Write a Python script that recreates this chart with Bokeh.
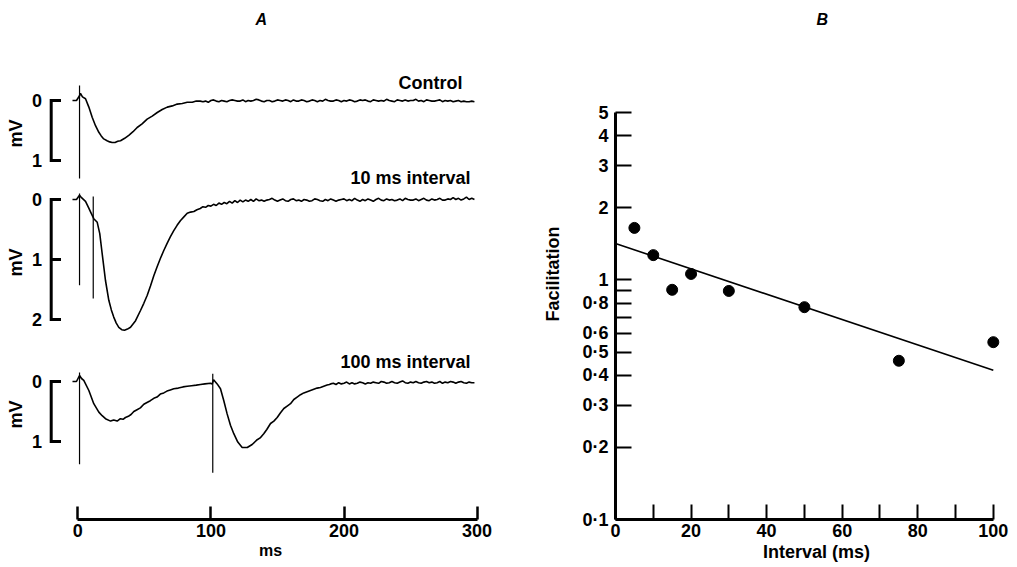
import numpy as np
from bokeh.plotting import figure
from bokeh.layouts import row
from bokeh.models import FixedTicker
from bokeh.core.properties import value
from bokeh.embed import file_html
from bokeh.resources import INLINE

# ---------------- DATA ----------------
# Panel A: membrane potential traces (time in ms, deflection in mV, positive = downward)
ctrl_t = [-4.0, -1.0, 1.3, 2.0, 3.5, 5.8, 8.3, 10.8, 13.3, 15.8, 17.6, 19.5, 22.0, 24.0, 25.8,
          28.0, 30.0, 32.1, 35.2, 38.3, 41.5, 44.6, 48.3, 52.1, 55.9, 59.7, 63.4, 67.2, 71.0,
          74.7, 78.5, 82.2, 86.0, 89.0] + list(range(92, 300, 2))
ctrl_mv = [0.0, 0.0, -0.08, -0.12, -0.06, -0.03, 0.11, 0.28, 0.42, 0.53, 0.59, 0.64, 0.67, 0.69,
           0.70, 0.70, 0.68, 0.67, 0.63, 0.58, 0.52, 0.45, 0.39, 0.31, 0.26, 0.20, 0.15, 0.11,
           0.09, 0.06, 0.05, 0.03, 0.03, 0.01,
           0.01, 0.02, 0.01, 0.03, 0.00, -0.01, 0.01, 0.02,
           0.00, 0.01, 0.02, 0.00, -0.01, 0.00, 0.01, 0.01,
           -0.01, 0.02, 0.00, 0.01, 0.00, -0.02, -0.01, 0.01,
           0.02, 0.00, 0.00, 0.02, 0.01, -0.01, 0.00, 0.01,
           -0.01, 0.00, 0.02, -0.01, 0.01, 0.01, -0.01, 0.00,
           0.02, 0.01, -0.01, 0.00, 0.02, 0.00, 0.01, -0.02,
           0.00, 0.01, 0.01, -0.01, 0.00, 0.02, 0.00, 0.01,
           -0.01, 0.00, 0.02, 0.01, -0.01, 0.00, -0.01, 0.01,
           0.02, -0.01, 0.00, 0.01, 0.00, 0.01, -0.02, 0.00,
           0.01, 0.02, -0.01, 0.00, 0.01, -0.01, 0.01, 0.00,
           0.00, -0.02, 0.01, 0.00, 0.02, -0.01, 0.00, 0.01,
           0.01, 0.00, -0.01, 0.02, 0.00, 0.01, 0.00, 0.02,
           0.01, 0.00, 0.02, 0.01, 0.02, 0.02, 0.01, 0.02]

i10_t = [-4.0, -1.0, 1.3, 2.8, 5.8, 8.0, 10.1, 12.0, 14.6, 16.5, 18.3, 20.8, 23.3, 25.2, 27.0,
         28.9, 30.8, 33.0, 35.1, 37.3, 39.6, 43.4, 47.1, 49.6, 52.1, 54.6, 57.1, 59.6, 62.1,
         64.6, 67.1, 69.6, 72.1, 74.6, 77.2, 79.7, 82.2, 84.7, 87.2, 89.5] + list(range(92, 300, 2))
i10_mv = [0.0, 0.0, -0.07, -0.03, 0.03, 0.13, 0.23, 0.32, 0.38, 0.57, 0.90, 1.35, 1.68, 1.84,
          1.96, 2.06, 2.13, 2.17, 2.18, 2.16, 2.13, 2.02, 1.85, 1.73, 1.60, 1.44, 1.27, 1.12,
          0.98, 0.85, 0.73, 0.62, 0.52, 0.43, 0.35, 0.29, 0.23, 0.21, 0.20, 0.17,
          0.15, 0.12, 0.13, 0.10, 0.11, 0.08, 0.10, 0.06,
          0.08, 0.05, 0.07, 0.03, 0.06, 0.02, 0.05, 0.01,
          0.04, 0.01, 0.03, 0.00, 0.03, -0.01, 0.02, 0.01,
          0.03, 0.01, 0.00, -0.02, 0.01, 0.03, 0.01, -0.01,
          0.02, 0.03, 0.00, -0.01, 0.02, 0.01, 0.03, 0.00,
          0.01, 0.03, 0.02, -0.01, 0.00, 0.02, 0.03, 0.00,
          0.02, -0.01, 0.01, 0.03, 0.01, 0.00, -0.01, 0.02,
          0.00, 0.02, -0.02, 0.01, 0.03, 0.00, 0.02, -0.01,
          0.01, 0.03, 0.00, -0.02, 0.01, 0.02, -0.01, 0.01,
          0.00, 0.02, 0.01, -0.01, 0.02, -0.02, 0.00, 0.01,
          0.01, -0.01, 0.02, 0.00, -0.02, 0.01, 0.02, -0.01,
          0.01, 0.00, -0.02, 0.01, 0.01, -0.01, 0.00, -0.03,
          0.00, -0.02, 0.01, -0.01, -0.04, 0.00, -0.02, 0.00]

i100_t = [-4.0, -1.0, 1.3, 2.8, 4.5, 8.3, 12.0, 15.8, 18.3, 20.8, 24.6, 27.0, 29.6, 32.0, 34.0,
          35.8, 38.0, 40.0, 42.1, 44.5, 47.0, 49.6, 52.0, 54.5, 57.1, 59.5, 62.0, 64.6, 67.0,
          69.5, 72.1, 75.5, 79.0, 82.2, 85.5, 89.0, 92.2, 95.5, 99.7, 101.0, 102.0, 104.7,
          107.2, 109.7, 112.2, 114.7, 117.2, 120.2, 123.5, 127.3, 131.0, 134.8, 137.0, 139.7,
          142.0, 144.8, 147.3, 149.8, 152.3, 154.8, 157.3, 159.8, 162.3, 164.8, 167.3, 169.8,
          172.3, 174.8, 177.3, 179.8, 182.3, 184.8, 187.3, 189.0] + list(range(190, 300, 2))
i100_mv = [0.0, 0.0, -0.10, -0.05, -0.02, 0.15, 0.37, 0.51, 0.57, 0.62, 0.66, 0.64, 0.66, 0.62,
           0.63, 0.60, 0.58, 0.55, 0.50, 0.47, 0.44, 0.38, 0.35, 0.32, 0.28, 0.26, 0.21, 0.19,
           0.16, 0.14, 0.12, 0.11, 0.09, 0.08, 0.07, 0.06, 0.05, 0.04, 0.03, 0.04, -0.03, 0.04,
           0.12, 0.32, 0.54, 0.73, 0.87, 1.01, 1.10, 1.10, 1.05, 0.97, 0.94, 0.87, 0.80, 0.70,
           0.66, 0.60, 0.52, 0.45, 0.41, 0.37, 0.30, 0.26, 0.22, 0.19, 0.17, 0.15, 0.13, 0.11,
           0.10, 0.08, 0.06, 0.05,
           0.04, 0.03, 0.05, 0.02, 0.04, 0.03, 0.01, 0.04,
           0.02, 0.04, 0.03, 0.01, 0.02, 0.04, 0.02, 0.03,
           0.01, 0.02, 0.03, 0.00, 0.01, 0.03, 0.02, 0.00,
           0.02, 0.03, 0.01, -0.01, 0.02, 0.03, 0.01, 0.02,
           0.00, 0.02, 0.03, 0.01, 0.00, 0.02, 0.01, 0.03,
           0.02, 0.00, 0.03, 0.01, 0.02, 0.00, 0.01, 0.03,
           0.01, 0.00, 0.02, 0.03, 0.01, 0.02, 0.02]

trace_labels = ["Control", "10 ms interval", "100 ms interval"]
scale_bar_mv = [1, 2, 1]                      # height of each mV scale bar
# stimulus artefacts: trace index, time (ms), top and bottom (mV)
artefact_trace = [0, 1, 1, 2, 2]
artefact_t = [1.3, 1.3, 11.6, 1.3, 101.4]
artefact_top = [-0.25, -0.10, -0.05, -0.15, -0.13]
artefact_bot = [1.30, 1.43, 1.65, 1.38, 1.52]
a_xticks = [0, 100, 200, 300]

# Panel B: facilitation vs interval
intervals = [5, 10, 15, 20, 30, 50, 75, 100]
facilitation = [1.65, 1.27, 0.91, 1.06, 0.90, 0.77, 0.46, 0.55]
fit_x = [0, 100]
fit_y = [1.42, 0.42]
b_xticks = [0, 20, 40, 60, 80, 100]
b_xminor = [10, 30, 50, 70, 90]
b_yticks = [0.1, 0.2, 0.3, 0.4, 0.5, 0.6, 0.8, 1, 2, 3, 4, 5]
b_yminor = [0.7, 0.9]
b_ylabels = ["0·1", "0·2", "0·3", "0·4", "0·5", "0·6", "0·8", "1", "2", "3", "4", "5"]

# ---------------- LAYOUT ----------------
FONT = "Liberation Sans"
FS = "18px"
W_A, W_B, H = 540, 477, 567
TOP = 28
PX_PER_MS = 1.331
X0_PX = 77.3
PX_PER_MV = 60.0
baseline_px = [100, 199, 381]          # vertical position of each trace's 0 mV


def tx(px):
    return (px - X0_PX) / PX_PER_MS


def ty(py):
    return -py / PX_PER_MV


offs = [b / PX_PER_MV for b in baseline_px]


def style_title(p, offset):
    p.title.text_font = FONT
    p.title.text_font_style = "bold italic"
    p.title.text_font_size = "16px"
    p.title.text_color = "black"
    p.title.align = "left"
    p.title.offset = offset
    p.title.standoff = 2


def style_axis(a, label, label_size, label_standoff, tick_standoff):
    a.axis_line_width = 3
    a.axis_line_color = "black"
    a.major_tick_line_color = "black"
    a.minor_tick_line_color = "black"
    a.major_tick_out = 0
    a.minor_tick_out = 0
    a.major_label_text_font = FONT
    a.major_label_text_font_size = FS
    a.major_label_text_font_style = "bold"
    a.major_label_text_color = "black"
    a.major_label_standoff = tick_standoff
    a.axis_label = label
    a.axis_label_text_font = FONT
    a.axis_label_text_font_size = label_size
    a.axis_label_text_font_style = "bold"
    a.axis_label_text_color = "black"
    a.axis_label_standoff = label_standoff


pa = figure(width=W_A, height=H, x_range=(tx(0), tx(W_A)), y_range=(ty(H - 48), ty(TOP)),
            y_axis_location=None, toolbar_location=None, output_backend="svg",
            min_border_left=0, min_border_right=0, min_border_top=TOP, min_border_bottom=48,
            title="A")
pa.grid.visible = False
pa.outline_line_color = None
style_title(pa, 255)

ax = pa.xaxis[0]
style_axis(ax, "ms", "16px", 2, 4)
ax.bounds = (0, 300)
ax.ticker = FixedTicker(ticks=a_xticks)
ax.major_tick_in = 13
ax.minor_tick_in = 0
ax.major_tick_line_width = 2.5

traces = [(ctrl_t, ctrl_mv), (i10_t, i10_mv), (i100_t, i100_mv)]
for (t, mv), off in zip(traces, offs):
    pa.line(t, [-(off + v) for v in mv], line_color="black", line_width=1.6)

pa.segment(x0=artefact_t, x1=artefact_t,
           y0=[-(offs[i] + v) for i, v in zip(artefact_trace, artefact_top)],
           y1=[-(offs[i] + v) for i, v in zip(artefact_trace, artefact_bot)],
           line_color="black", line_width=1.2)

bar_x = tx(50.7)
bar_x2 = tx(60.5)
lab_x = tx(41.5)
for off, h in zip(offs, scale_bar_mv):
    pa.segment(x0=[bar_x], x1=[bar_x], y0=[-off + 0.025], y1=[-(off + h) - 0.025],
               line_color="black", line_width=3)
    levels = list(range(h + 1))
    pa.segment(x0=[bar_x] * len(levels), x1=[bar_x2] * len(levels),
               y0=[-(off + k) for k in levels], y1=[-(off + k) for k in levels],
               line_color="black", line_width=3)
    pa.text(x=[lab_x] * len(levels), y=[-(off + k) for k in levels],
            text=[str(k) for k in levels], text_font=value(FONT), text_font_size=FS,
            text_font_style="bold", text_align="right", text_baseline="middle",
            text_color="black")
    pa.text(x=[tx(15)], y=[-(off + h / 2) - 0.05], text=["mV"], angle=np.pi / 2,
            text_font=value(FONT), text_font_size=FS, text_font_style="bold",
            text_align="center", text_baseline="middle", text_color="black")

pa.text(x=[tx(462), tx(470), tx(470)], y=[ty(82), ty(177), ty(361)], text=trace_labels,
        text_font=value(FONT), text_font_size=FS, text_font_style="bold",
        text_align="right", text_baseline="middle", text_color="black")

# Panel B
LEFT_B = 70
PX_PER_UNIT = 3.825
PX_PER_DEC = 240.0
BOT_B = 47
frame_w = W_B - LEFT_B
frame_h = H - TOP - BOT_B
pb = figure(width=W_B, height=H, x_range=(0, frame_w / PX_PER_UNIT),
            y_range=(0.1, 0.1 * 10 ** (frame_h / PX_PER_DEC)), y_axis_type="log",
            toolbar_location=None, output_backend="svg",
            min_border_left=LEFT_B, min_border_right=0, min_border_top=TOP,
            min_border_bottom=BOT_B, title="B")
pb.grid.visible = False
pb.outline_line_color = None
style_title(pb, 201)

bx = pb.xaxis[0]
style_axis(bx, "Interval (ms)", FS, 2, 4)
bx.bounds = (0, 100)
bx.ticker = FixedTicker(ticks=b_xticks, minor_ticks=b_xminor)
bx.major_tick_in = 15
bx.minor_tick_in = 15
bx.major_tick_line_width = 2
bx.minor_tick_line_width = 2

by = pb.yaxis[0]
style_axis(by, "Facilitation", FS, 16, 7)
by.bounds = (0.1, 5)
by.ticker = FixedTicker(ticks=b_yticks, minor_ticks=b_yminor)
by.major_tick_in = 16
by.minor_tick_in = 16
by.major_tick_line_width = 2
by.minor_tick_line_width = 2
by.major_label_overrides = {float(k): lab for k, lab in zip(b_yticks, b_ylabels)}

pb.line(fit_x, fit_y, line_color="black", line_width=1.6)
pb.scatter(intervals, facilitation, size=11, color="black")

layout = row(pa, pb)
open("out.html", "w").write(file_html(layout, INLINE))
